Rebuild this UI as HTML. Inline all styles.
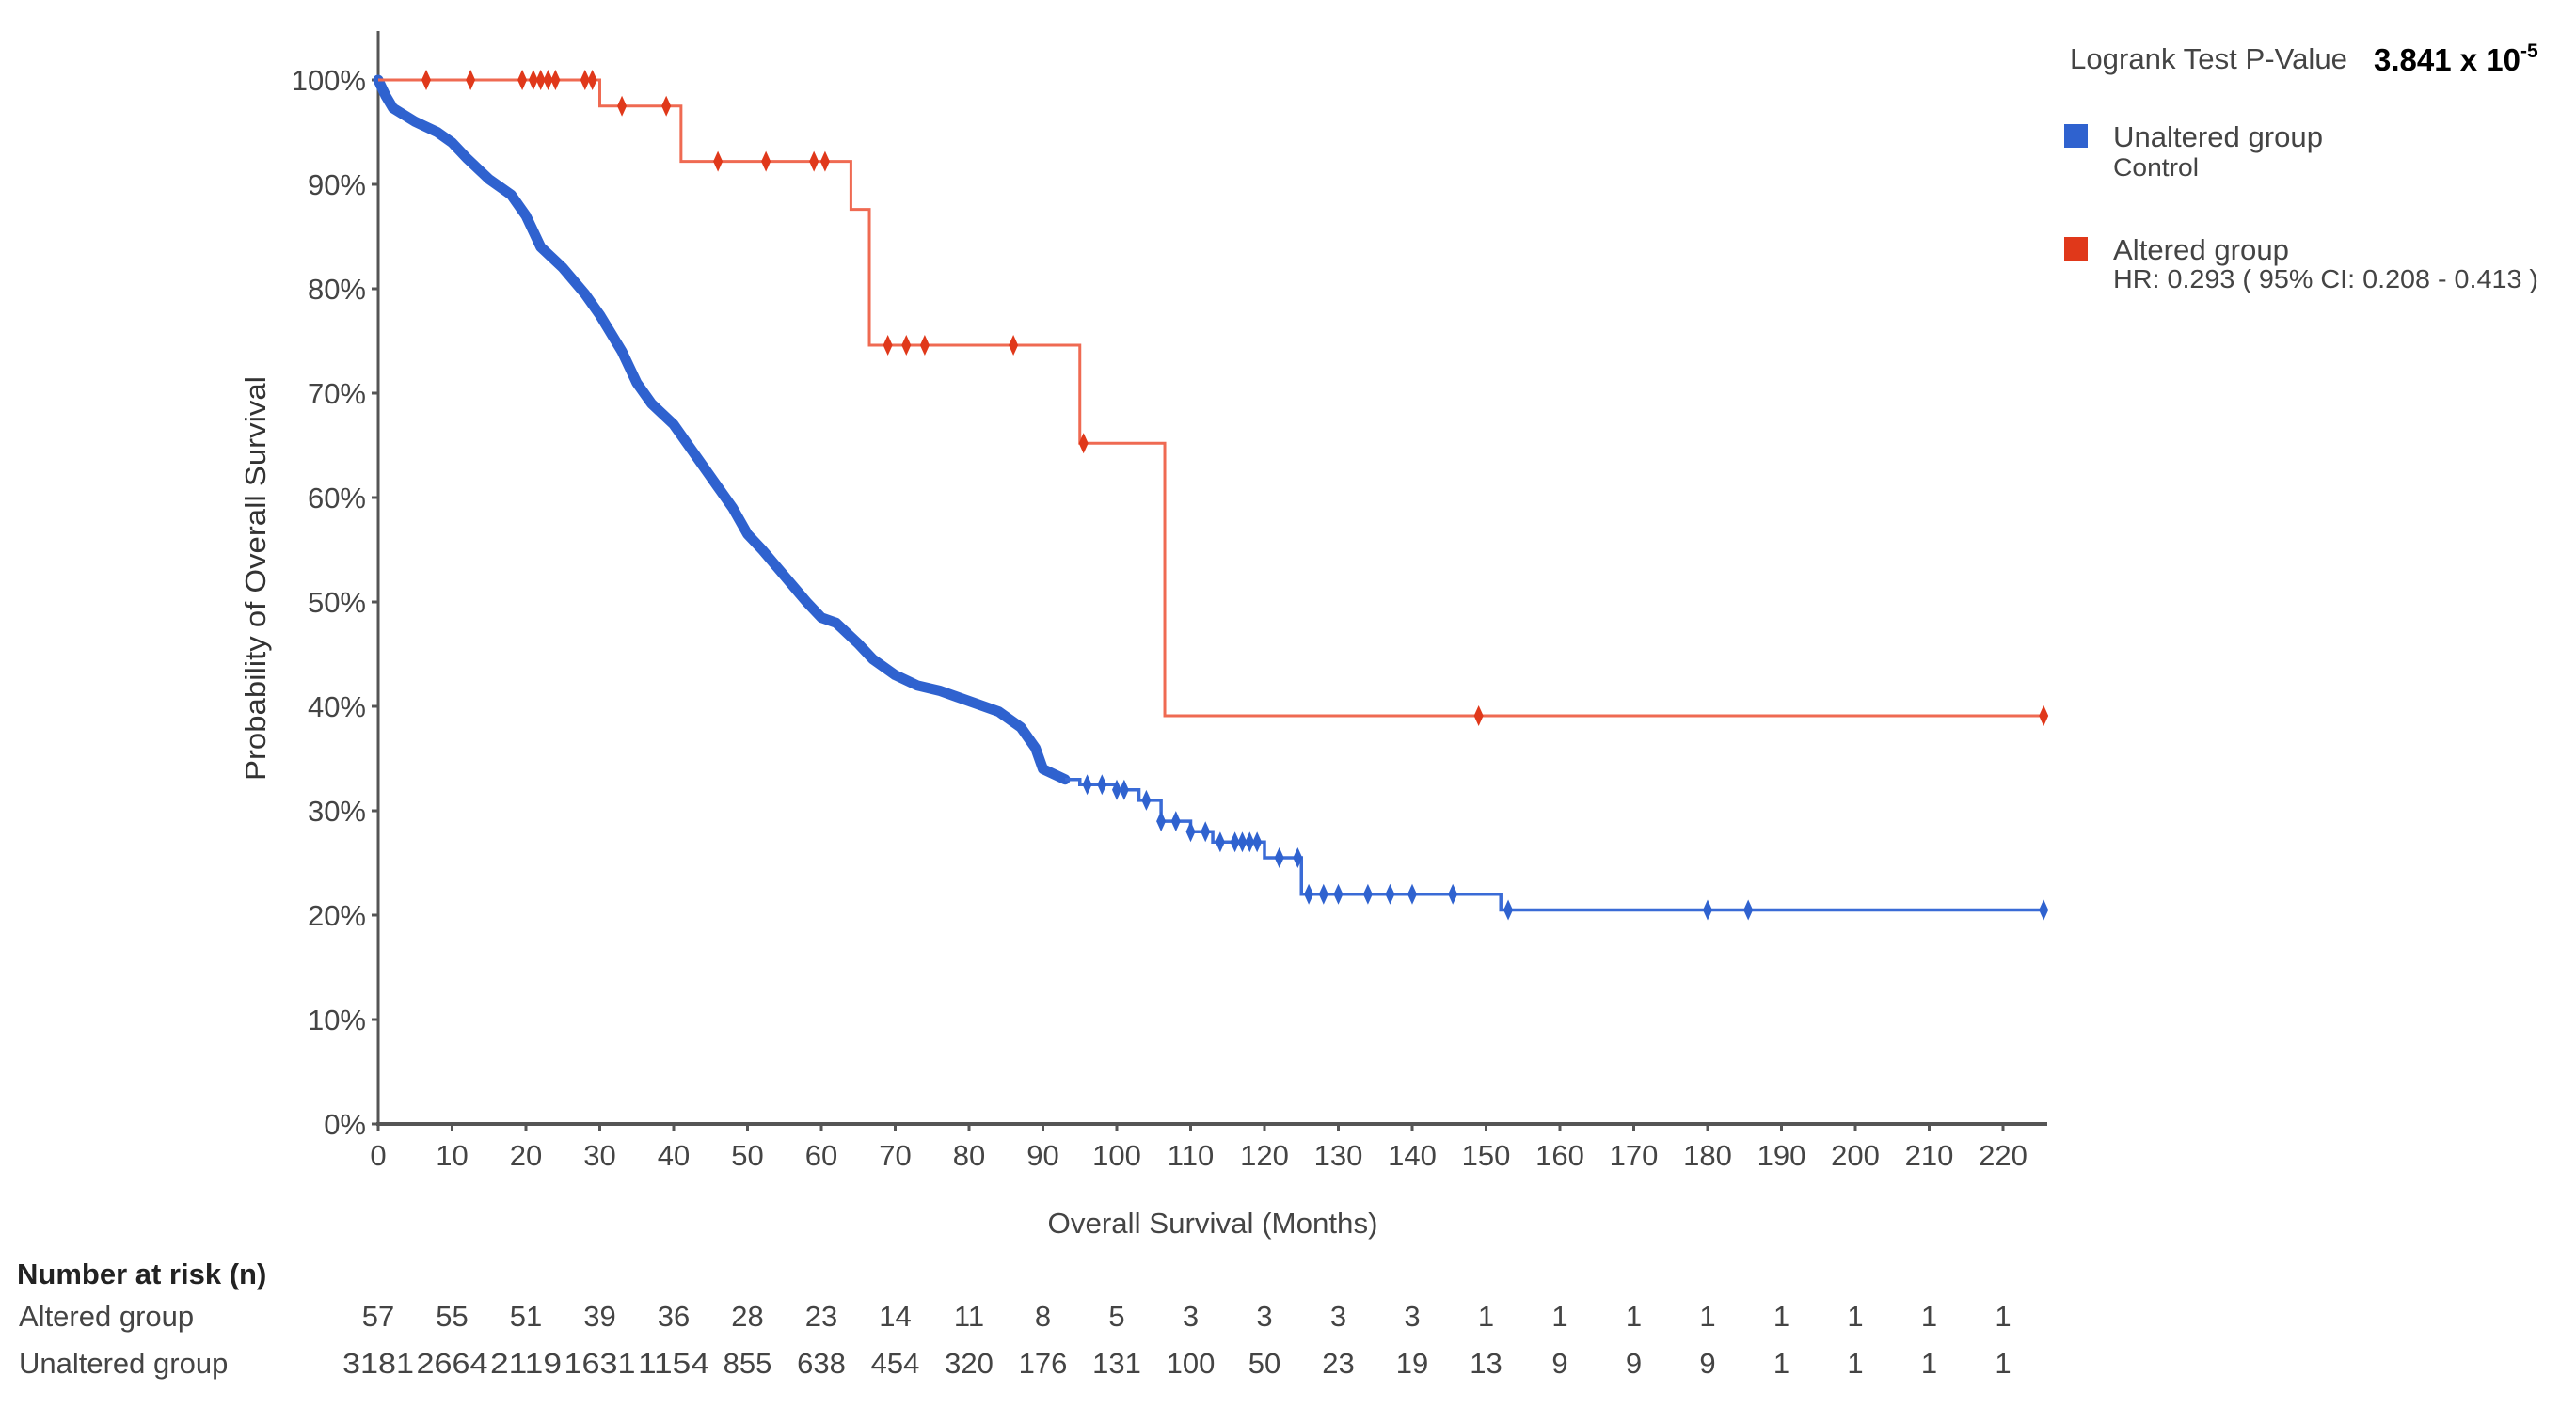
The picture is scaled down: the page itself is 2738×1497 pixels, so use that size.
<!DOCTYPE html>
<html><head><meta charset="utf-8"><style>
html,body{margin:0;padding:0;background:#fff;width:2738px;height:1497px;overflow:hidden}
svg{display:block}
text{font-family:"Liberation Sans",Arial,sans-serif}
</style></head><body>
<svg id="chart" width="2738" height="1497" viewBox="0 0 2738 1497">
<g id="axes"></g>
<g id="series"></g>
<text x="282" y="615" font-size="31" fill="#333" text-anchor="middle" textLength="430" lengthAdjust="spacingAndGlyphs" transform="rotate(-90 282 615)">Probability of Overall Survival</text>
<text x="1289" y="1311" font-size="31" fill="#444" text-anchor="middle" textLength="351" lengthAdjust="spacingAndGlyphs">Overall Survival (Months)</text>
<g>
<text x="2200" y="73" font-size="31" fill="#444" textLength="295" lengthAdjust="spacingAndGlyphs">Logrank Test P-Value</text>
<text x="2523" y="75" font-size="33" font-weight="bold" fill="#000">3.841 x 10<tspan dy="-14" font-size="21">-5</tspan></text>
<rect x="2194" y="132" width="25" height="25" fill="#2f62cf"/>
<text x="2246" y="156" font-size="31" fill="#444" textLength="223" lengthAdjust="spacingAndGlyphs">Unaltered group</text>
<text x="2246" y="187" font-size="27" fill="#444" textLength="91" lengthAdjust="spacingAndGlyphs">Control</text>
<rect x="2194" y="252" width="25" height="25" fill="#e0381a"/>
<text x="2246" y="276" font-size="31" fill="#444" textLength="187" lengthAdjust="spacingAndGlyphs">Altered group</text>
<text x="2246" y="306" font-size="28" fill="#444" textLength="452" lengthAdjust="spacingAndGlyphs">HR: 0.293 ( 95% CI: 0.208 - 0.413 )</text>
</g>
<g id="risk">
<text x="18" y="1365" font-size="31" font-weight="bold" fill="#222">Number at risk (n)</text>
<text x="20" y="1410" font-size="31" fill="#444">Altered group</text>
<text x="20" y="1460" font-size="31" fill="#444">Unaltered group</text>
</g>
</svg>
<script>
const xTicks=[0,10,20,30,40,50,60,70,80,90,100,110,120,130,140,150,160,170,180,190,200,210,220];
const yTicks=[0,10,20,30,40,50,60,70,80,90,100];
const riskAltered=[57,55,51,39,36,28,23,14,11,8,5,3,3,3,3,1,1,1,1,1,1,1,1];
const riskUnaltered=[3181,2664,2119,1631,1154,855,638,454,320,176,131,100,50,23,19,13,9,9,9,1,1,1,1];
// altered KM steps: time, survival %
const alteredTimes=[0,30,41,64,66.5,95,106.5,226];
const alteredSurv=[100,97.5,92.2,87.6,74.6,65.2,39.1,39.1];
const alteredCensorT=[6.5,12.5,19.5,21,22,23,24,28,29,33,39,46,52.5,59,60.5,69,71.5,74,86,95.5,149,225.5];
// unaltered KM (approximate)
const unalteredTimes=[0,1,2,5,8,10,12,15,18,20,22,25,28,30,33,35,37,40,42,44,46,48,50,52,55,58,60,62,65,67,70,73,76,80,84,87,89,90,93,95,100,103,106,110,113,119,120,124,125,135,145,152,226];
const unalteredSurv=[100,98.5,97.3,96,95,94,92.5,90.5,89,87,84,82,79.5,77.5,74,71,69,67,65,63,61,59,56.5,55,52.5,50,48.5,48,46,44.5,43,42,41.5,40.5,39.5,38,36,34,33,32.5,32,31,29,28,27,27,25.5,25.5,22,22,22,20.5,20.5];
const unalteredCensorT=[96,98,100,101,104,106,108,110,112,114,116,117,118,119,122,124.5,126,128,130,134,137,140,145.5,153,180,185.5,225.5];

const NS="http://www.w3.org/2000/svg";
const X=t=>402+t*7.85;
const Y=p=>1195-p*11.1;
function el(tag,attrs,parent){const e=document.createElementNS(NS,tag);for(const k in attrs)e.setAttribute(k,attrs[k]);parent.appendChild(e);return e;}
const axes=document.getElementById('axes');
const series=document.getElementById('series');
const risk=document.getElementById('risk');

let a=el('line',{x1:402,y1:33,x2:402,y2:1197,stroke:'#555','stroke-width':3},axes);


a=el('line',{x1:400,y1:1195,x2:2176,y2:1195,stroke:'#555','stroke-width':4},axes);


yTicks.forEach(v=>{
  const y=Y(v);
  const tk=el('line',{x1:395,y1:y,x2:402,y2:y,stroke:'#555','stroke-width':3},axes);
  
  
  const t=el('text',{x:389,y:y+11,'font-size':31,fill:'#444','text-anchor':'end'},axes);
  t.textContent=v+'%';
  
  
});
xTicks.forEach((v,i)=>{
  const x=X(v);
  const tk=el('line',{x1:x,y1:1195,x2:x,y2:1203,stroke:'#555','stroke-width':3},axes);
  
  
  const t=el('text',{x:x,y:1239,'font-size':31,fill:'#444','text-anchor':'middle'},axes);
  t.textContent=v;
  
  
  const r1=el('text',{x:x,y:1410,'font-size':31,fill:'#444','text-anchor':'middle'},risk);
  r1.textContent=riskAltered[i];
  
  
  const r2=el('text',{x:x,y:1460,'font-size':31,fill:'#444','text-anchor':'middle'},risk);
  if(String(riskUnaltered[i]).length>3){r2.setAttribute('textLength',76);r2.setAttribute('lengthAdjust','spacingAndGlyphs');}
  r2.textContent=riskUnaltered[i];
  
  
});

function stepPath(ts,ss){let d='M'+X(ts[0])+' '+Y(ss[0]);for(let i=1;i<ts.length;i++){d+=' H'+X(ts[i])+' V'+Y(ss[i]);}return d;}
function survAt(ts,ss,t){let s=ss[0];for(let i=0;i<ts.length;i++){if(ts[i]<=t)s=ss[i];}return s;}
function linePath(ts,ss,tmax){let d='';for(let i=0;i<ts.length&&ts[i]<=tmax;i++){d+=(i?' L':'M')+X(ts[i])+' '+Y(ss[i]);}return d;}

let p=el('path',{d:linePath(unalteredTimes,unalteredSurv,93),fill:'none',stroke:'#2f62cf','stroke-width':11,'stroke-linejoin':'round','stroke-linecap':'round'},series);


p=el('path',{d:stepPath(unalteredTimes.filter(t=>t>=93),unalteredSurv.filter((s,i)=>unalteredTimes[i]>=93)),fill:'none',stroke:'#3a6bd6','stroke-width':3.5},series);


unalteredCensorT.forEach(t=>{
  const x=X(t),y=Y(survAt(unalteredTimes,unalteredSurv,t));
  const m=el('path',{d:`M${x} ${y-11} L${x+5} ${y} L${x} ${y+11} L${x-5} ${y} Z`,fill:'#2f62cf'},series);
  
  
});
p=el('path',{d:stepPath(alteredTimes,alteredSurv),fill:'none',stroke:'#ef6a52','stroke-width':3},series);


alteredCensorT.forEach(t=>{
  const x=X(t),y=Y(survAt(alteredTimes,alteredSurv,t));
  const m=el('path',{d:`M${x} ${y-11} L${x+5} ${y} L${x} ${y+11} L${x-5} ${y} Z`,fill:'#e0381a'},series);
  
  
});
</script>
</body></html>
